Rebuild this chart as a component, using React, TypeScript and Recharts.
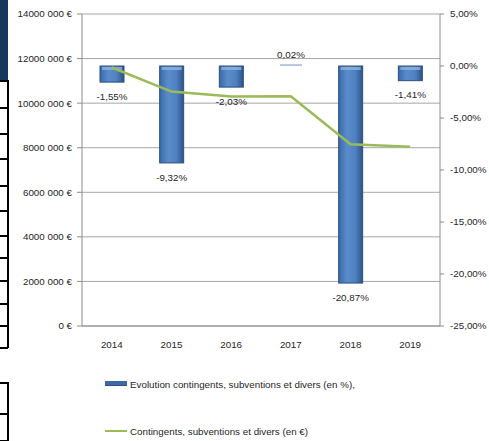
import React from "react";
import {
  ComposedChart,
  Bar,
  Line,
  XAxis,
  YAxis,
  CartesianGrid,
  LabelList,
} from "recharts";

const years = ["2014", "2015", "2016", "2017", "2018", "2019"];
const evolutionPct = [-1.55, -9.32, -2.03, 0.02, -20.87, -1.41];
const amountEur = [11600000, 10520000, 10300000, 10310000, 8160000, 8040000];
const leftTicks = [0, 2000000, 4000000, 6000000, 8000000, 10000000, 12000000, 14000000];
const rightTicks = [-25, -20, -15, -10, -5, 0, 5];

const data = years.map((year, i) => ({
  year,
  pct: evolutionPct[i],
  amount: amountEur[i],
}));

const FONT = "'Liberation Sans', Arial, sans-serif";
const TEXT = "#262626";
const FS = 9.8;

const formatEur = (v: number) => {
  if (v === 0) return "0 €";
  const thousands = Math.floor(v / 1000);
  const rest = String(v % 1000).padStart(3, "0");
  return `${thousands} ${rest} €`;
};

const formatPct = (v: number) => `${v.toFixed(2).replace(".", ",")}%`;

function BevelBar(props: any) {
  const { x, y, width, height, value } = props;
  const top = Math.min(y, y + height);
  const h = Math.max(Math.abs(height), 1);
  if (value > 0 && Math.abs(height) < 2) {
    return <rect x={x + 1} y={top - 1.5} width={width - 2} height={1.5} fill="#9db7da" />;
  }
  return (
    <g>
      <rect x={x} y={top} width={width} height={h} fill="url(#barGrad)" stroke="#2c4f7c" strokeWidth={1} />
      <rect x={x + 2} y={top + 1} width={width - 4} height={Math.min(3, h - 2)} fill="#8fb3e0" opacity={0.8} />
    </g>
  );
}

function PctLabel(props: any) {
  const { x, y, width, height, value } = props;
  const top = Math.min(y, y + height);
  const bottom = Math.max(y, y + height);
  const cx = x + width / 2;
  const ty = value >= 0 ? top - 10 : bottom + 15;
  return (
    <text
      x={cx}
      y={ty}
      textAnchor="middle"
      dominantBaseline="middle"
      fontFamily={FONT}
      fontSize={FS}
      fill={TEXT}
    >
      {formatPct(value)}
    </text>
  );
}

const tableRows = [80, 107, 133, 158, 185, 210, 235, 257, 280, 303, 325, 347];
const tableRows2 = [382, 413, 440];

export default function App() {
  return (
    <div style={{ position: "absolute", left: 0, top: 0, width: 489, height: 441, background: "#fff", overflow: "hidden" }}>
      <div style={{ position: "absolute", left: 0, top: 0, width: 8, height: 80, background: "#17375e" }} />
      <div style={{ position: "absolute", left: 7, top: 80, width: 1.5, height: 268, background: "#000" }} />
      <div style={{ position: "absolute", left: 7, top: 382, width: 1.5, height: 59, background: "#000" }} />
      {tableRows.concat(tableRows2).map((ry) => (
        <div key={ry} style={{ position: "absolute", left: 0, top: ry, width: 8, height: 1.5, background: "#000" }} />
      ))}

      <div style={{ position: "absolute", left: 0, top: 0 }}>
        <ComposedChart
          width={489}
          height={441}
          data={data}
          margin={{ top: 14, right: 0, left: 0, bottom: 85 }}
        >
          <defs>
            <linearGradient id="barGrad" x1="0" y1="0" x2="1" y2="0">
              <stop offset="0%" stopColor="#3a69a6" />
              <stop offset="35%" stopColor="#5a8ccc" />
              <stop offset="70%" stopColor="#4f80c0" />
              <stop offset="100%" stopColor="#2d5288" />
            </linearGradient>
          </defs>
          <CartesianGrid yAxisId="left" vertical={false} stroke="#a6a6a6" strokeWidth={1} />
          <XAxis
            dataKey="year"
            tickLine={false}
            tickMargin={9}
            axisLine={{ stroke: "#8c8c8c" }}
            tick={{ fontSize: FS, fontFamily: FONT, fill: TEXT }}
            height={30}
          />
          <YAxis
            yAxisId="left"
            orientation="left"
            width={82}
            domain={[0, 14000000]}
            ticks={leftTicks}
            tickFormatter={formatEur}
            tickSize={5}
            tickMargin={5}
            axisLine={{ stroke: "#8c8c8c" }}
            tickLine={{ stroke: "#8c8c8c" }}
            tick={{ fontSize: FS, fontFamily: FONT, fill: TEXT }}
            interval={0}
          />
          <YAxis
            yAxisId="right"
            orientation="right"
            width={49}
            domain={[-25, 5]}
            ticks={rightTicks}
            tickFormatter={formatPct}
            tickSize={4}
            tickMargin={6}
            axisLine={{ stroke: "#8c8c8c" }}
            tickLine={{ stroke: "#8c8c8c" }}
            tick={{ fontSize: FS, fontFamily: FONT, fill: TEXT, textAnchor: "start" }}
            interval={0}
          />
          <Bar
            yAxisId="right"
            dataKey="pct"
            name="Evolution contingents, subventions et divers (en %),"
            barSize={24}
            shape={<BevelBar />}
            isAnimationActive={false}
          >
            <LabelList dataKey="pct" content={<PctLabel />} />
          </Bar>
          <Line
            yAxisId="left"
            type="linear"
            dataKey="amount"
            name="Contingents, subventions et divers (en €)"
            stroke="#9bbb59"
            strokeWidth={2.5}
            dot={false}
            activeDot={false}
            isAnimationActive={false}
          />
        </ComposedChart>
      </div>

      <div style={{ position: "absolute", left: 105, top: 381, width: 22, height: 4, background: "#3d6aa5", borderBottom: "1px solid #2c4f7c" }} />
      <div style={{ position: "absolute", left: 130, top: 378, fontFamily: FONT, fontSize: FS, color: TEXT, whiteSpace: "nowrap", lineHeight: "14px" }}>
        Evolution contingents, subventions et divers (en %),
      </div>
      <div style={{ position: "absolute", left: 105, top: 430, width: 22, height: 2, background: "#9bbb59" }} />
      <div style={{ position: "absolute", left: 130, top: 425, fontFamily: FONT, fontSize: FS, color: TEXT, whiteSpace: "nowrap", lineHeight: "14px" }}>
        Contingents, subventions et divers (en €)
      </div>
    </div>
  );
}
